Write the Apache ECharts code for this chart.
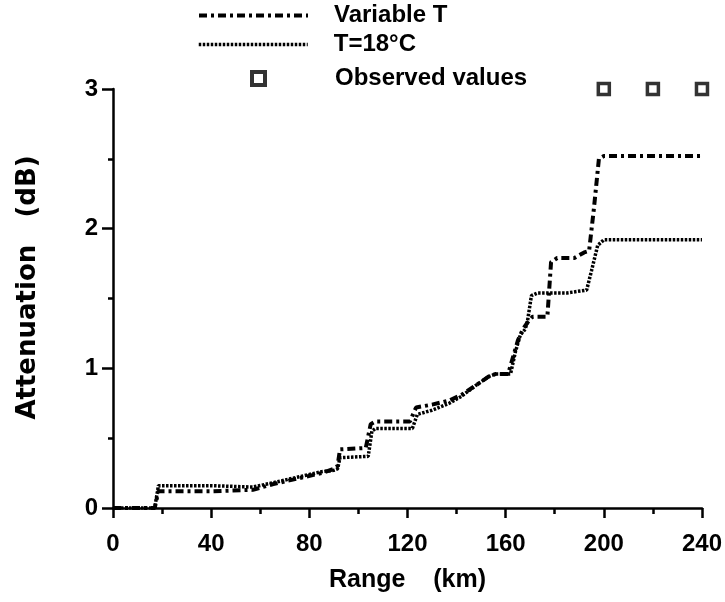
<!DOCTYPE html>
<html>
<head>
<meta charset="utf-8">
<script src="https://cdn.jsdelivr.net/npm/echarts@6/dist/echarts.min.js"></script>
<style>html,body{margin:0;padding:0;background:#fff}#c{width:725px;height:602px}</style>
</head>
<body>
<div id="c"></div>
<script>
// Variable T curve
var varKm = [0,17,18.5,40,57,65,75,85,90,91.5,92.5,103,105,107,121,123.5,130,137,142,148,153,156,161,163,165,167,169,171,177,178.5,181,188,192,194,196,198,200,240];
var varDb = [0,0,0.12,0.12,0.13,0.17,0.21,0.25,0.28,0.30,0.42,0.43,0.60,0.62,0.62,0.72,0.74,0.77,0.81,0.88,0.94,0.96,0.96,1.08,1.20,1.28,1.33,1.37,1.37,1.76,1.79,1.79,1.83,1.84,2.15,2.50,2.52,2.52];
// T = 18 °C curve
var t18Km = [0,17,18.5,40,57,65,75,85,90,91.5,92.5,104,105.5,107,122,124,130,137,142,148,153,156,162,164,166,168,169,170.5,173,185,193,195,197.5,200,240];
var t18Db = [0,0,0.16,0.16,0.15,0.18,0.22,0.26,0.27,0.28,0.36,0.37,0.55,0.57,0.57,0.67,0.70,0.75,0.80,0.88,0.94,0.96,0.96,1.12,1.24,1.28,1.35,1.52,1.54,1.54,1.56,1.70,1.88,1.92,1.92];
// Observed values
var obsKm = [200,220,240];
var obsDb = [3,3,3];

function pairs(a,b){return a.map(function(v,i){return [v,b[i]];});}
var FONT = '"Liberation Sans", Arial, sans-serif';
var WIDE = '"DejaVu Sans", sans-serif';
var chart = echarts.init(document.getElementById('c'));
var legText = {fontFamily:FONT,fontSize:24,fontWeight:'bold',color:'#000',lineHeight:27};
chart.setOption({
  animation:false,
  backgroundColor:'#fff',
  legend:[
    {orient:'vertical',padding:0,itemWidth:109,itemHeight:14,left:197,top:2,selectedMode:false,
     itemStyle:{color:'rgba(0,0,0,0)',borderWidth:0,opacity:0},lineStyle:{width:4},
     textStyle:Object.assign({padding:[0,0,0,21]},legText),data:['Variable T']},
    {orient:'vertical',padding:0,itemWidth:109,itemHeight:14,left:197,top:31,selectedMode:false,
     itemStyle:{color:'rgba(0,0,0,0)',borderWidth:0,opacity:0},lineStyle:{width:3.5},
     textStyle:Object.assign({padding:[0,0,0,21]},legText),data:['T=18°C']},
    {orient:'vertical',padding:0,itemWidth:13,itemHeight:13,left:250,top:65,selectedMode:false,
     itemStyle:{color:'#fff',borderColor:'#000',borderWidth:4},
     textStyle:Object.assign({padding:[0,0,0,65]},legText),data:['Observed values']}
  ],
  grid:{left:113,right:22,top:89,bottom:94},
  xAxis:{
    type:'value',min:0,max:240,interval:40,
    name:'Range    (km)',nameLocation:'middle',nameGap:60,
    nameTextStyle:{fontFamily:FONT,fontSize:25,fontWeight:'bold',color:'#000'},
    axisLine:{lineStyle:{color:'#000',width:2.5}},
    axisTick:{length:10,lineStyle:{color:'#000',width:2.5}},
    minorTick:{show:true,splitNumber:2,length:6,lineStyle:{color:'#000',width:2.5}},
    axisLabel:{fontFamily:FONT,fontSize:24,fontWeight:'bold',color:'#000',margin:24},
    splitLine:{show:false}
  },
  yAxis:{
    type:'value',min:0,max:3,interval:1,
    name:'Attenuation   (dB)',nameLocation:'middle',nameGap:72,
    nameTextStyle:{fontFamily:WIDE,fontSize:26,fontWeight:'bold',color:'#000',padding:[0,0,0,22]},
    axisLine:{show:true,lineStyle:{color:'#000',width:2.5}},
    axisTick:{show:true,length:11,lineStyle:{color:'#000',width:2.5}},
    minorTick:{show:true,splitNumber:2,length:5,lineStyle:{color:'#000',width:2.5}},
    axisLabel:{fontFamily:FONT,fontSize:24,fontWeight:'bold',color:'#000',margin:15},
    splitLine:{show:false}
  },
  series:[
    {name:'Variable T',type:'line',data:pairs(varKm,varDb),symbol:'none',
     color:'#000',lineStyle:{color:'#000',width:4,type:[8,4,3,4]}},
    {name:'T=18°C',type:'line',data:pairs(t18Km,t18Db),symbol:'none',
     color:'#000',lineStyle:{color:'#000',width:3.5,type:[2.5,1.5]}},
    {name:'Observed values',type:'scatter',data:pairs(obsKm,obsDb),symbol:'rect',symbolSize:11,clip:false,
     itemStyle:{color:'#fff',borderColor:'#000',borderWidth:3.5}}
  ]
});
</script>
</body>
</html>
